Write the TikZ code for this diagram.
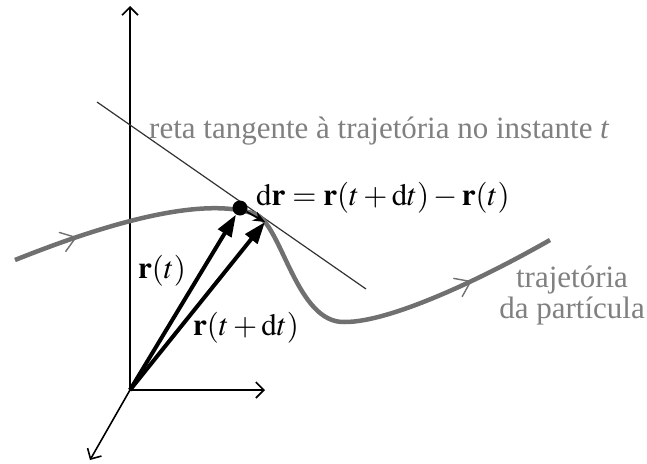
\documentclass[tikz,border=0pt]{standalone}
\usepackage{mathptmx}
\usepackage[no-math]{fontspec}
\setmainfont{Liberation Serif}
\usetikzlibrary{arrows.meta,decorations.markings}
\definecolor{curvegray}{RGB}{112,112,112}
\definecolor{textgray}{RGB}{128,128,128}
\tikzset{
  axis/.style={line width=1.6pt,-{Straight Barb[length=8pt,width=16pt,line width=1.6pt]}},
  vec/.style={line width=4pt,-{Triangle[length=22pt,width=15pt]}},
  small vec/.style={line width=1.8pt,-{Stealth[length=12pt,width=10pt]}},
  tangent/.style={line width=1.2pt,black!80},
  traj/.style={line width=4.5pt,curvegray,
    postaction={decorate},
    decoration={markings,
      mark=at position 0.105 with {\draw[line width=1.4pt,curvegray,line cap=round] (-14,10) -- (0,0) -- (-14,-10);},
      mark=at position 0.855 with {\draw[line width=1.4pt,curvegray,line cap=round] (-14,10) -- (0,0) -- (-14,-10);}}},
  graylabel/.style={text=textgray,font=\fontsize{31}{31}\selectfont,inner sep=0pt},
  blacklabel/.style={font=\fontsize{31}{31}\selectfont,inner sep=0pt},
}
\begin{document}
\begin{tikzpicture}[x=1pt,y=-1pt]
\useasboundingbox (0,0) rectangle (647,463);
% axes
\coordinate (O) at (130,390);
\coordinate (ztop) at (130,6);
\coordinate (xend) at (265,390);
\coordinate (yend) at (90,460);
\draw[axis] (O) -- (ztop);
\draw[axis] (O) -- (xend);
\draw[axis] (O) -- (yend);
% tangent line
\coordinate (tA) at (97,102);
\coordinate (tB) at (366,289);
\draw[tangent] (tA) -- (tB);
% trajectory
\draw[traj] (15,260) .. controls (100,226) and (200,195) .. (255,214)
  .. controls (282,224) and (296,324) .. (345,322)
  .. controls (390,322) and (480,280) .. (550,240);
% points
\node[circle,fill=black,inner sep=0pt,minimum size=15pt] (P) at (240,208) {};
\coordinate (Q) at (265,222);
% vectors
\draw[vec] (O) -- (P);
\draw[vec] (O) -- (Q);
\draw[small vec] (P) -- (Q);
% labels
\node[graylabel,anchor=west] (lt) at (149,131) {reta tangente à trajetória no instante \textit{t}};
\node[blacklabel,anchor=west] (ldr) at (256,198) {$\mathrm{d}\mathbf{r}=\mathbf{r}(t+\mathrm{d}t)-\mathbf{r}(t)$};
\node[blacklabel] (lr) at (162,271) {$\mathbf{r}(t)$};
\node[blacklabel] (lrdt) at (246,328) {$\mathbf{r}(t+\mathrm{d}t)$};
\node[graylabel,align=center] (ltraj) at (572,296) {trajetória\\da partícula};
\end{tikzpicture}
\end{document}
